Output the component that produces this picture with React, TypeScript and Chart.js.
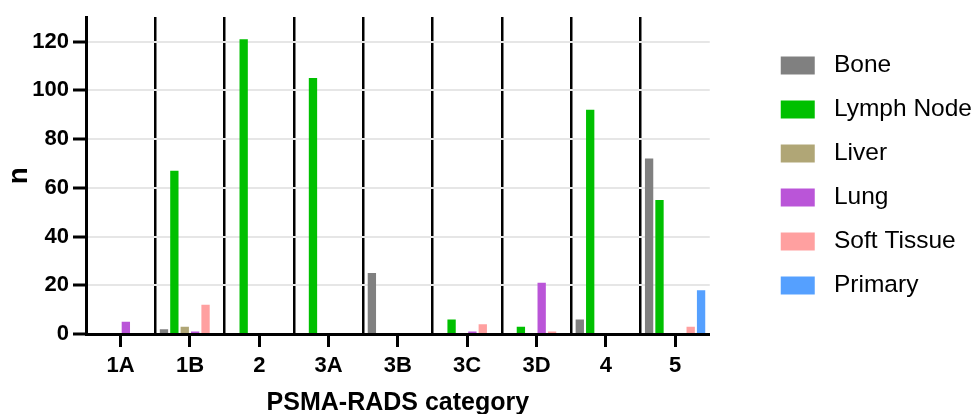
import React, { useEffect, useRef } from "react";
import { Chart, registerables } from "chart.js";

Chart.register(...registerables);

const categories = ["1A", "1B", "2", "3A", "3B", "3C", "3D", "4", "5"];
const bone = [0, 2, 0, 0, 25, 0, 0, 6, 72];
const lymphNode = [0, 67, 121, 105, 0, 6, 3, 92, 55];
const liver = [0, 3, 0, 0, 0, 0, 0, 0, 0];
const lung = [5, 1, 0, 0, 0, 1, 21, 0, 0];
const softTissue = [0, 12, 0, 0, 0, 4, 1, 0, 3];
const primary = [0, 0, 0, 0, 0, 0, 0, 0, 18];
const yTicks = [0, 20, 40, 60, 80, 100, 120];

const FONT = "'Liberation Sans', Arial, Helvetica, sans-serif";

export default function App() {
  const ref = useRef<HTMLCanvasElement | null>(null);

  useEffect(() => {
    document.body.style.margin = "0";
    const canvas = ref.current;
    if (!canvas) return;
    Chart.defaults.font.family = FONT;
    Chart.defaults.color = "#000";

    const chart = new Chart(canvas, {
      type: "bar",
      data: {
        labels: categories,
        datasets: [
          { label: "Bone", data: bone, backgroundColor: "#808080" },
          { label: "Lymph Node", data: lymphNode, backgroundColor: "#00C000" },
          { label: "Liver", data: liver, backgroundColor: "#B0A676" },
          { label: "Lung", data: lung, backgroundColor: "#BA55D8" },
          { label: "Soft Tissue", data: softTissue, backgroundColor: "#FFA0A0" },
          { label: "Primary", data: primary, backgroundColor: "#55A0FF" },
        ],
      },
      options: {
        animation: false,
        responsive: true,
        maintainAspectRatio: false,
        layout: { padding: { top: 17, right: -6, bottom: 0, left: 0 } },
        datasets: { bar: { categoryPercentage: 0.9, barPercentage: 0.8, borderWidth: 0 } },
        plugins: {
          tooltip: { enabled: false },
          legend: {
            position: "right",
            fullSize: false,
            align: "center",
            maxWidth: 400,
            labels: {
              boxWidth: 48,
              boxHeight: 32,
              padding: 12,
              color: "#000",
              font: { size: 24.5, family: FONT },
              generateLabels: (c: any) =>
                (Chart.defaults.plugins.legend.labels as any)
                  .generateLabels(c)
                  .map((l: any) => ({ ...l, strokeStyle: "#ffffff", lineWidth: 14 })),
            },
          },
        },
        scales: {
          x: {
            type: "category",
            position: "bottom",
            offset: true,
            grid: {
              display: true,
              offset: false,
              drawOnChartArea: false,
              drawTicks: true,
              tickLength: 13,
              tickWidth: 3,
              tickColor: "#000",
              color: "#000",
            },
            border: { display: true, color: "#000", width: 3 },
            ticks: {
              padding: 6,
              color: "#000",
              font: { size: 22, weight: "bold", family: FONT },
              maxRotation: 0,
              autoSkip: false,
            },
            title: {
              display: true,
              text: "PSMA-RADS category",
              color: "#000",
              font: { size: 25, weight: "bold", family: FONT },
              padding: { top: 0, bottom: -4.5 },
            },
            afterFit: (s: any) => {
              s.height = 80;
            },
          },
          x2: {
            type: "category",
            position: "top",
            axis: "x",
            offset: true,
            grid: {
              display: true,
              offset: true,
              drawOnChartArea: true,
              drawTicks: false,
              lineWidth: 2.5,
              color: (ctx: any) =>
                typeof ctx.index === "number" && ctx.index >= 1 && ctx.index < categories.length
                  ? "#000"
                  : "rgba(0,0,0,0)",
            },
            border: { display: false },
            ticks: { display: false },
            afterFit: (s: any) => {
              s.height = 0;
            },
          },
          y: {
            type: "linear",
            position: "left",
            min: 0,
            max: 130,
            ticks: {
              stepSize: 20,
              padding: 4,
              color: "#000",
              font: { size: 22, weight: "bold", family: FONT },
            },
            afterBuildTicks: (s: any) => {
              s.ticks = s.ticks.filter((t: any) => yTicks.includes(t.value));
            },
            grid: {
              display: true,
              drawOnChartArea: true,
              drawTicks: true,
              tickLength: 13,
              tickWidth: 3,
              tickColor: "#000",
              lineWidth: 2,
              color: (ctx: any) =>
                ctx.tick && ctx.tick.value === 0 ? "rgba(0,0,0,0)" : "#E6E6E6",
            },
            border: { display: true, color: "#000", width: 3 },
            title: {
              display: true,
              text: "n",
              color: "#000",
              font: { size: 28, weight: "bold", family: FONT },
              padding: { top: 2, bottom: 0 },
            },
            afterFit: (s: any) => {
              s.width = 86;
            },
          },
          y2: {
            type: "linear",
            position: "right",
            display: true,
            grid: { display: false },
            border: { display: false },
            ticks: { display: false },
            afterFit: (s: any) => {
              s.width = 52;
            },
          },
        },
      },
    } as any);

    return () => chart.destroy();
  }, []);

  return (
    <div style={{ position: "absolute", left: 0, top: 0, width: 976, height: 414 }}>
      <canvas ref={ref} />
    </div>
  );
}
